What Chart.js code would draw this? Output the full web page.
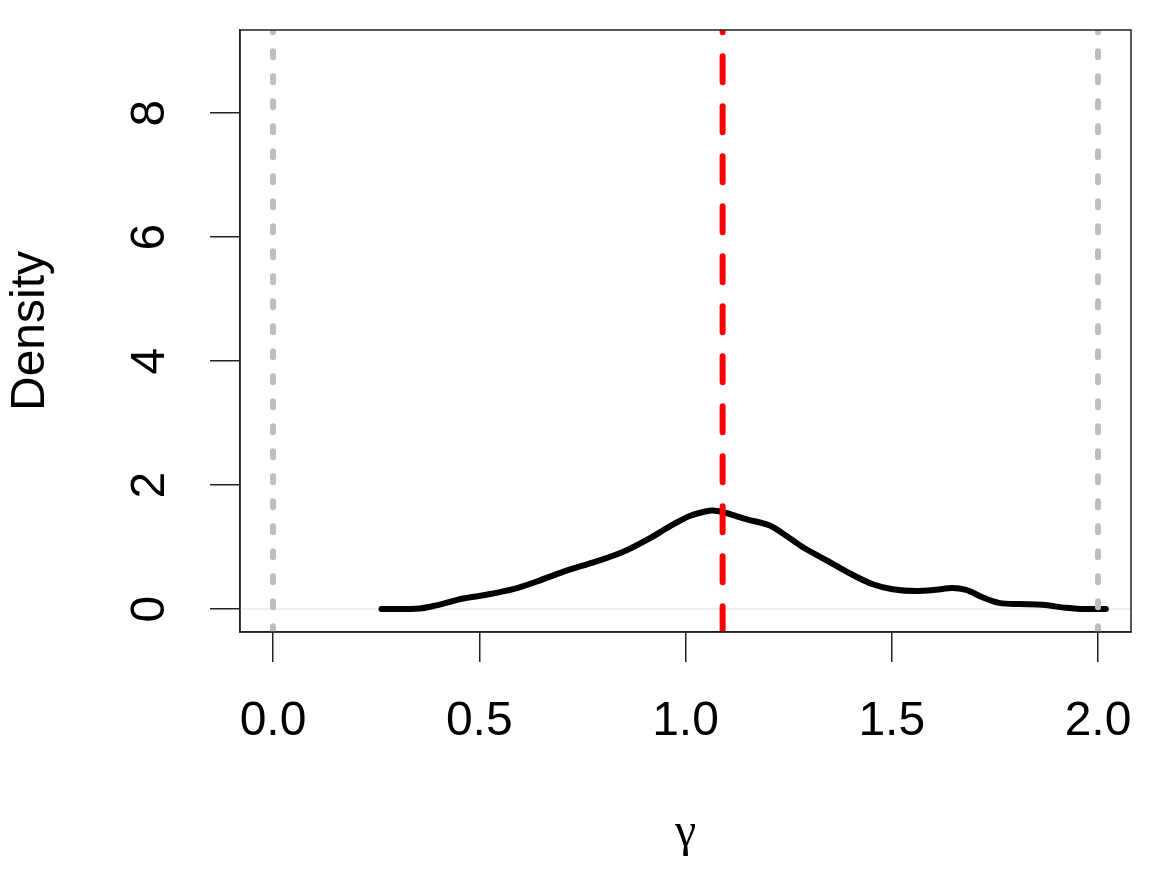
<!DOCTYPE html>
<html>
<head>
<meta charset="utf-8">
<script src="https://cdn.jsdelivr.net/npm/chart.js@4.4.1/dist/chart.umd.min.js"></script>
<style>
  html, body { margin: 0; padding: 0; background: #ffffff; }
  #wrap { width: 1162px; height: 873px; }
</style>
</head>
<body>
<div id="wrap"><canvas id="c" width="1162" height="873"></canvas></div>
<script>
// ---- data ----
const gammaX = [0.263, 0.30, 0.356, 0.396, 0.461, 0.517, 0.582, 0.638, 0.703, 0.784,
                0.848, 0.913, 0.961, 1.010, 1.045, 1.066, 1.098, 1.147, 1.203, 1.236,
                1.284, 1.341, 1.397, 1.454, 1.502, 1.559, 1.607, 1.647, 1.680, 1.720,
                1.760, 1.809, 1.865, 1.922, 1.970, 2.019];
const densityY = [0.00, 0.00, 0.01, 0.06, 0.17, 0.23, 0.32, 0.44, 0.60, 0.77,
                  0.92, 1.14, 1.33, 1.50, 1.57, 1.59, 1.55, 1.45, 1.35, 1.22,
                  1.00, 0.79, 0.58, 0.40, 0.32, 0.29, 0.31, 0.34, 0.31, 0.19,
                  0.10, 0.08, 0.07, 0.02, 0.00, 0.00];
const boundLines = [0, 2];          // grey dotted verticals
const estimateLine = 1.09;          // red dashed vertical
const zeroLine = 0;                 // faint horizontal
const xTickValues = [0, 0.5, 1, 1.5, 2];
const xTickLabels = ["0.0", "0.5", "1.0", "1.5", "2.0"];
const yTickValues = [0, 2, 4, 6, 8];
const yTickLabels = ["0", "2", "4", "6", "8"];
const xLabel = "γ";
const yLabel = "Density";
const xLim = [-0.08, 2.08];
const yLim = [-0.37, 9.34];

// ---- chart ----
const SANS = "'Liberation Sans', Arial, Helvetica, sans-serif";
const curve = gammaX.map((x, i) => ({ x: x, y: densityY[i] }));

const datasets = [
  {
    label: "estimate",
    data: [{ x: estimateLine, y: yLim[1] }, { x: estimateLine, y: yLim[0] }],
    borderColor: "#FF0000", borderWidth: 6, borderDash: [26, 24], borderDashOffset: 23.7,
    borderCapStyle: "round", pointRadius: 0, clip: 0, order: 0
  },
  ...boundLines.map(b => ({
    label: "bound",
    data: [{ x: b, y: yLim[1] }, { x: b, y: yLim[0] }],
    borderColor: "#BEBEBE", borderWidth: 6, borderDash: [6, 19], borderDashOffset: 3.7,
    borderCapStyle: "round", pointRadius: 0, clip: 0, order: 1
  })),
  {
    label: "density",
    data: curve,
    borderColor: "#000000", borderWidth: 6, borderCapStyle: "round", borderJoinStyle: "round",
    cubicInterpolationMode: "monotone", pointRadius: 0, order: 2
  },
  {
    label: "zero",
    data: [{ x: xLim[0], y: zeroLine }, { x: xLim[1], y: zeroLine }],
    borderColor: "#EFEFEF", borderWidth: 2, pointRadius: 0, clip: 0, order: 3
  }
];

const boxPlugin = {
  id: "box",
  beforeDraw(chart) {
    const ctx = chart.ctx;
    ctx.save();
    ctx.fillStyle = "#ffffff";
    ctx.fillRect(0, 0, chart.width, chart.height);
    ctx.restore();
  },
  afterDatasetsDraw(chart) {
    const a = chart.chartArea, ctx = chart.ctx;
    ctx.save();
    ctx.strokeStyle = "#222222";
    ctx.lineWidth = 1.5;
    ctx.strokeRect(a.left, a.top, a.right - a.left, a.bottom - a.top);
    ctx.restore();
  }
};

new Chart(document.getElementById("c"), {
  type: "line",
  data: { datasets: datasets },
  plugins: [boxPlugin],
  options: {
    responsive: false,
    devicePixelRatio: 1,
    animation: false,
    layout: { padding: { left: 0, top: 30, right: 31, bottom: 0 } },
    plugins: { legend: { display: false }, tooltip: { enabled: false }, title: { display: false } },
    scales: {
      x: {
        type: "linear", position: "bottom", min: xLim[0], max: xLim[1],
        afterBuildTicks: s => { s.ticks = xTickValues.map(v => ({ value: v })); },
        afterFit: s => { s.height = 241; s.paddingLeft = 0; s.paddingRight = 0; s.paddingTop = 0; s.paddingBottom = 0; },
        grid: { drawOnChartArea: false, drawTicks: true, tickLength: 30, color: "#222222", lineWidth: 1.5 },
        border: { display: true, color: "#222222", width: 1.5 },
        ticks: {
          autoSkip: false, maxRotation: 0, minRotation: 0, padding: 31,
          color: "#000000", font: { family: SANS, size: 48, lineHeight: 1.2 },
          callback: (v) => xTickLabels[xTickValues.indexOf(v)]
        },
        title: {
          display: true, text: xLabel, color: "#000000",
          font: { family: "'Liberation Serif', 'Times New Roman', serif", size: 48, lineHeight: 1.2 },
          padding: { top: 0, bottom: 11 }
        }
      },
      y: {
        type: "linear", position: "left", min: yLim[0], max: yLim[1],
        afterBuildTicks: s => { s.ticks = yTickValues.map(v => ({ value: v })); },
        afterFit: s => { s.width = 240; s.paddingLeft = 0; s.paddingRight = 0; s.paddingTop = 0; s.paddingBottom = 0; },
        grid: { drawOnChartArea: false, drawTicks: true, tickLength: 30, color: "#222222", lineWidth: 1.5 },
        border: { display: true, color: "#222222", width: 1.5 },
        ticks: {
          autoSkip: false, minRotation: 90, maxRotation: 90, crossAlign: "center", padding: 46,
          color: "#000000", font: { family: SANS, size: 48, lineHeight: 1.2 },
          callback: (v) => yTickLabels[yTickValues.indexOf(v)]
        },
        title: {
          display: true, text: yLabel, color: "#000000",
          font: { family: SANS, size: 48, lineHeight: 1.2 },
          padding: { top: 2, bottom: 0 }
        }
      }
    }
  }
});
</script>
</body>
</html>
